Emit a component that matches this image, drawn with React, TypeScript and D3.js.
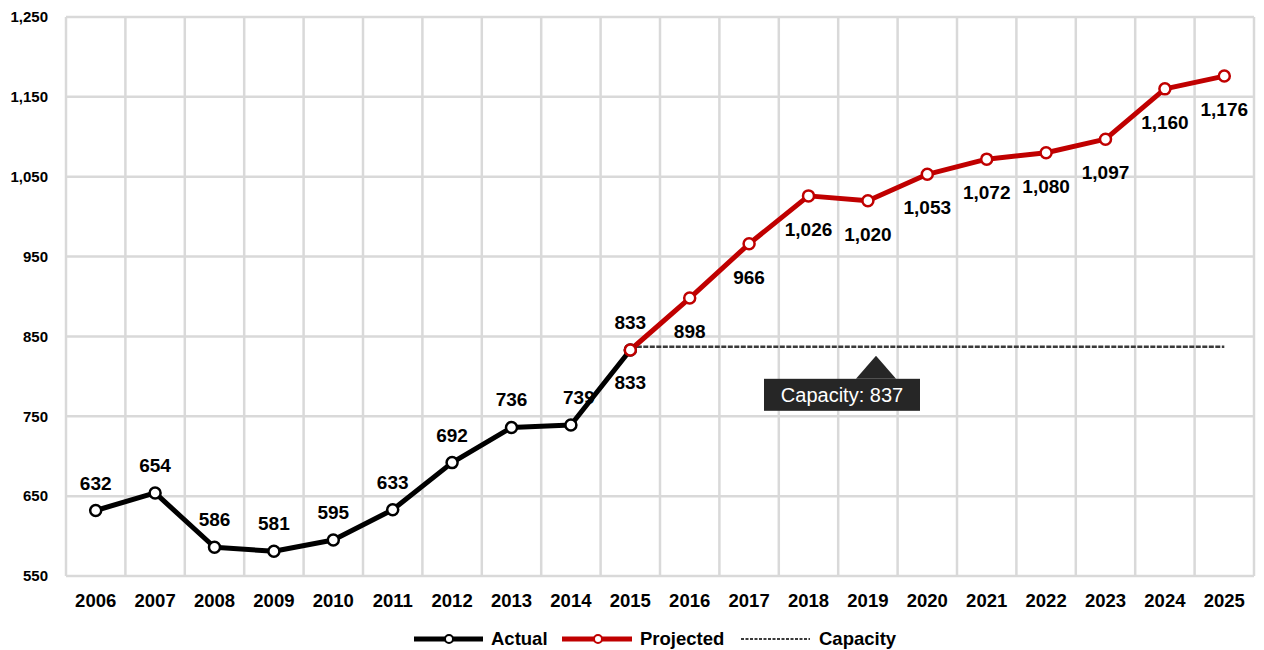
import React from "react";
import * as d3 from "d3";

const years = ["2006","2007","2008","2009","2010","2011","2012","2013","2014","2015","2016","2017","2018","2019","2020","2021","2022","2023","2024","2025"];
const actualYears = ["2006","2007","2008","2009","2010","2011","2012","2013","2014","2015"];
const actualValues = [632, 654, 586, 581, 595, 633, 692, 736, 739, 833];
const projectedYears = ["2015","2016","2017","2018","2019","2020","2021","2022","2023","2024","2025"];
const projectedValues = [833, 898, 966, 1026, 1020, 1053, 1072, 1080, 1097, 1160, 1176];
const capacity = 837;
const yTicks = [550, 650, 750, 850, 950, 1050, 1150, 1250];

const W = 1264, H = 650;
const L = 66, R = 1254, T = 17, B = 576;
const FONT = "'Liberation Sans', Arial, sans-serif";

export default function App() {
  const x = d3.scaleBand<string>().domain(years).range([L, R]);
  const xc = (d: string) => (x(d) as number) + x.bandwidth() / 2;
  const y = d3.scaleLinear().domain([550, 1250]).range([B, T]);
  const fmt = d3.format(",");
  const line = d3.line<[string, number]>().x(d => xc(d[0])).y(d => y(d[1]));
  const actual: [string, number][] = actualYears.map((d, i) => [d, actualValues[i]]);
  const projected: [string, number][] = projectedYears.map((d, i) => [d, projectedValues[i]]);

  const capY = y(capacity);
  const capX1 = xc("2015");
  const capX2 = xc("2025");
  const tipX = 876;

  return (
    <svg width={W} height={H} style={{ position: "absolute", left: 0, top: 0 }} fontFamily={FONT}>
      <rect width={W} height={H} fill="#fff" />
      {/* grid */}
      {years.map((d, i) => (
        <line key={"v" + i} x1={x(d)} x2={x(d)} y1={T} y2={B} stroke="#d9d9d9" strokeWidth={2.5} />
      ))}
      <line x1={R} x2={R} y1={T} y2={B} stroke="#d9d9d9" strokeWidth={2.5} />
      {yTicks.map(t => (
        <line key={"h" + t} x1={L} x2={R} y1={y(t)} y2={y(t)} stroke="#d9d9d9" strokeWidth={2.5} />
      ))}
      {/* y labels */}
      {yTicks.map(t => (
        <text key={"yl" + t} x={48} y={y(t)} dy="0.35em" textAnchor="end" fontSize={15} fontWeight="bold" fill="#000">{fmt(t)}</text>
      ))}
      {/* x labels */}
      {years.map(d => (
        <text key={"xl" + d} x={xc(d)} y={607} textAnchor="middle" fontSize={18.5} fontWeight="bold" fill="#000">{d}</text>
      ))}
      {/* capacity */}
      <line x1={capX1} x2={capX2} y1={capY} y2={capY} stroke="#3a3a3a" strokeWidth={2.5} strokeDasharray="5,1.5" />
      {/* lines */}
      <path d={line(actual) as string} fill="none" stroke="#000" strokeWidth={5} strokeLinejoin="round" />
      <path d={line(projected) as string} fill="none" stroke="#c00000" strokeWidth={5} strokeLinejoin="round" />
      {actual.map(d => (
        <circle key={"ac" + d[0]} cx={xc(d[0])} cy={y(d[1])} r={5.5} fill="#fff" stroke="#000" strokeWidth={2.5} />
      ))}
      {projected.map(d => (
        <circle key={"pc" + d[0]} cx={xc(d[0])} cy={y(d[1])} r={5.5} fill="#fff" stroke="#c00000" strokeWidth={2.5} />
      ))}
      {/* data labels */}
      {actual.map((d, i) => {
        const last = i === actual.length - 1;
        const dx = d[0] === "2014" ? 8 : 0;
        return (
          <text key={"al" + d[0]} x={xc(d[0]) + dx} y={last ? y(d[1]) + 39 : y(d[1]) - 21} textAnchor="middle" fontSize={19} fontWeight="bold" fill="#000">{fmt(d[1])}</text>
        );
      })}
      {projected.map((d, i) => {
        const first = i === 0;
        return (
          <text key={"pl" + d[0]} x={xc(d[0])} y={first ? y(d[1]) - 21 : y(d[1]) + 40} textAnchor="middle" fontSize={19} fontWeight="bold" fill="#000">{fmt(d[1])}</text>
        );
      })}
      {/* capacity tooltip */}
      <path d={`M${tipX - 20},${capY + 32} L${tipX},${capY + 9} L${tipX + 20},${capY + 32} Z`} fill="#262626" />
      <rect x={764} y={capY + 32} width={156} height={32} fill="#262626" />
      <text x={842} y={capY + 48} dy="0.35em" textAnchor="middle" fontSize={20} fill="#fff">{`Capacity: ${capacity}`}</text>
      {/* legend */}
      <g>
        <line x1={414} x2={483} y1={639} y2={639} stroke="#000" strokeWidth={5} />
        <circle cx={449} cy={639} r={4} fill="#fff" stroke="#000" strokeWidth={2} />
        <text x={491} y={639} dy="0.35em" fontSize={18.5} fontWeight="bold" fill="#000">Actual</text>
        <line x1={562} x2={632} y1={639} y2={639} stroke="#c00000" strokeWidth={5} />
        <circle cx={598} cy={639} r={4} fill="#fff" stroke="#c00000" strokeWidth={2} />
        <text x={640} y={639} dy="0.35em" fontSize={18.5} fontWeight="bold" fill="#000">Projected</text>
        <line x1={741} x2={810} y1={639} y2={639} stroke="#3a3a3a" strokeWidth={2} strokeDasharray="3,1.5" />
        <text x={819} y={639} dy="0.35em" fontSize={18.5} fontWeight="bold" fill="#000">Capacity</text>
      </g>
    </svg>
  );
}
